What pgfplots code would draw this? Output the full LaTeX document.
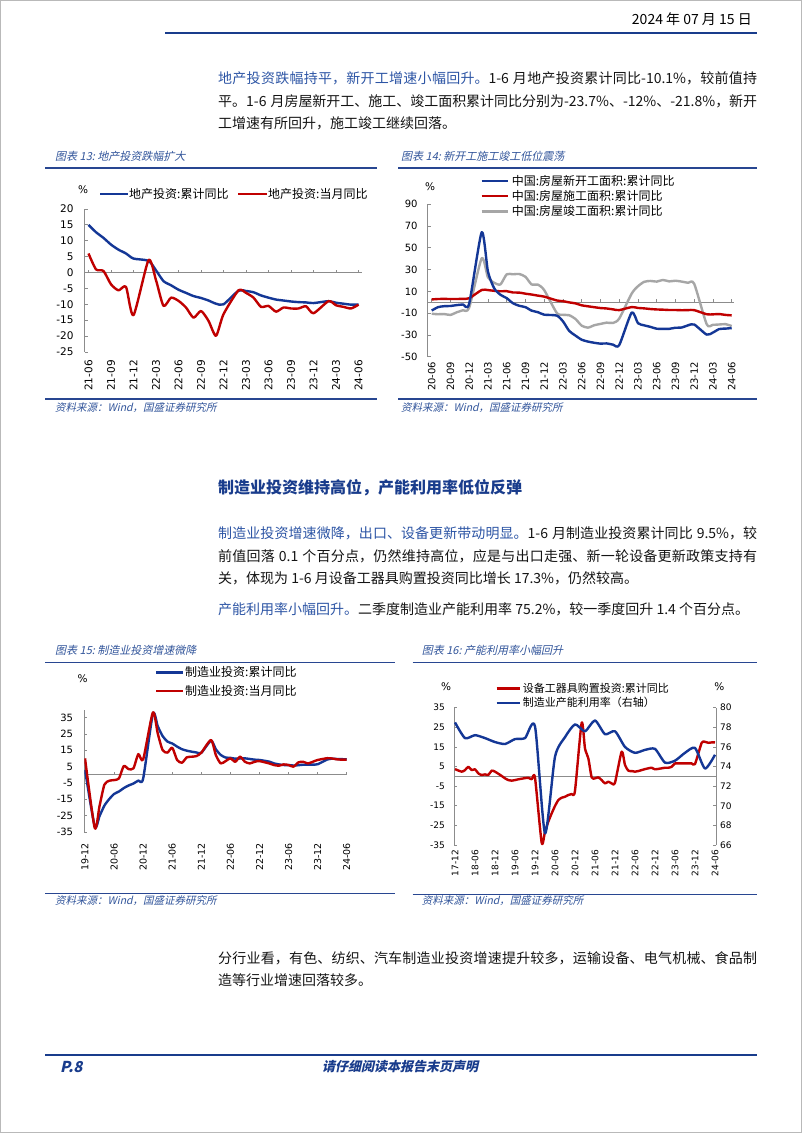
\documentclass[border=0pt]{standalone}
\usepackage{fontspec}
\usepackage{xcolor}
\usepackage{pgfplots}
\pgfplotsset{compat=1.18}
\setmainfont{Noto Sans CJK SC}
\newfontfamily\cjkit{Noto Sans CJK SC}[FakeSlant=0.22, BoldFeatures={FakeSlant=0.22}]
\newfontfamily\dv{DejaVu Sans}
\XeTeXlinebreaklocale "zh"
\XeTeXlinebreakskip=0pt plus 3pt minus 0.5pt

\definecolor{lineblue}{RGB}{20,55,150}
\definecolor{linered}{RGB}{192,0,0}
\definecolor{linegray}{RGB}{166,166,166}
\definecolor{axgray}{RGB}{140,140,140}
\definecolor{leadblue}{RGB}{45,85,165}
\definecolor{headblue}{RGB}{25,60,140}
\definecolor{ruleblue}{RGB}{40,70,145}
\definecolor{capblue}{RGB}{50,85,155}
\definecolor{bodytext}{RGB}{20,20,20}

\newcommand\body{\fontsize{14}{22}\selectfont\color{bodytext}}
\newcommand\jline[1]{\parbox[t]{539pt}{\parindent=0pt\parfillskip=0pt\emergencystretch=20pt\spaceskip=4pt plus 0.3pt minus 0.3pt\xspaceskip=4pt plus 0.3pt\relax\leavevmode #1\par}}
\newcommand\legfont{\fontsize{12}{14}\selectfont}
\newcommand\legfontS{\fontsize{11}{13}\selectfont}
\newcommand\capfont{\cjkit\fontsize{11}{13}\selectfont\color{capblue}}
\newcommand\srcfont{\cjkit\fontsize{10.5}{12}\selectfont\color{capblue}}
\newcommand\tickA{\fontsize{10.5}{12}\selectfont\dv}
\newcommand\tickB{\fontsize{10}{12}\selectfont\dv}
\newcommand\tickC{\fontsize{9.5}{11}\selectfont\dv}
\newcommand\tickD{\fontsize{9}{11}\selectfont\dv}
\newcommand\pct{\fontsize{10.5}{12}\selectfont\dv}

\pgfplotsset{
  gs/.style={
    scale only axis, anchor=north west,
    axis y line*=left, axis x line*=bottom,
    x axis line style={draw=none},
    y axis line style={draw=axgray, line width=0.8pt},
    xtick style={draw=none},
    ytick style={draw=axgray, line width=0.8pt},
    tick align=inside, major tick length=3pt,
    /pgf/number format/assume math mode=true,
    yticklabel style={anchor=east, inner sep=0pt},
    no markers,
    every axis plot/.append style={line width=2.4pt, smooth, tension=0.4, line join=round},
  }
}

\begin{document}
\begin{tikzpicture}
\useasboundingbox (0,0) rectangle (802pt,-1133pt);
\fill[white] (0,0) rectangle (802pt,-1133pt);
\draw[gray!55, line width=1.2pt] (0.6pt,-0.6pt) rectangle (801.4pt,-1132.4pt);

% ---------- header ----------
\node[anchor=base east, inner sep=0] at (752pt,-24pt) {\fontsize{14}{16}\selectfont 2024 年 07 月 15 日};
\draw[headblue, line width=2.4pt] (165pt,-33pt) -- (757pt,-33pt);

% ---------- paragraph 1 ----------
\node[anchor=base west, inner sep=0] at (218pt,-83pt) {\body\jline{{\color{leadblue}地产投资跌幅持平，新开工增速小幅回升。}1-6 月地产投资累计同比-10.1\%，较前值持}};
\node[anchor=base west, inner sep=0] at (218pt,-106pt) {\body\jline{平。1-6 月房屋新开工、施工、竣工面积累计同比分别为-23.7\%、-12\%、-21.8\%，新开}};
\node[anchor=base west, inner sep=0] at (218pt,-128pt) {\body 工增速有所回升，施工竣工继续回落。};

% ---------- chart 13 frame ----------
\node[anchor=west, inner sep=0] at (55pt,-156pt) {\capfont 图表 13:\ 地产投资跌幅扩大};
\draw[ruleblue, line width=1.3pt] (45pt,-168pt) -- (377pt,-168pt);
\draw[ruleblue, line width=1.3pt] (45pt,-399pt) -- (377pt,-399pt);
\node[anchor=west, inner sep=0] at (55pt,-408pt) {\srcfont 资料来源：Wind，国盛证券研究所};
\node[inner sep=0] at (83pt,-190pt) {\pct\%};
\draw[lineblue, line width=2.4pt] (100pt,-194pt) -- (128pt,-194pt);
\node[anchor=west, inner sep=0] at (129pt,-194pt) {\legfont 地产投资:累计同比};
\draw[linered, line width=2.4pt] (238pt,-194pt) -- (267pt,-194pt);
\node[anchor=west, inner sep=0] at (268pt,-194pt) {\legfont 地产投资:当月同比};

\begin{axis}[gs, at={(84.75pt,-209pt)}, width=277pt, height=143pt,
  xmin=-0.5, xmax=36.43, ymin=-25, ymax=20,
  ytick={-25,-20,...,20}, xtick={0,3,...,36},
  xticklabels={21-06,21-09,21-12,22-03,22-06,22-09,22-12,23-03,23-06,23-09,23-12,24-03,24-06},
  ticklabel style={font=\tickA},
  yticklabel style={xshift=-11pt},
  xticklabel style={yshift=-8pt, rotate=90, anchor=east, inner sep=0pt}]
\draw[axgray, line width=0.8pt] (axis cs:-0.5,0) -- (axis cs:36.43,0);
\pgfplotsinvokeforeach{0,3,...,36}{\draw[axgray, line width=0.8pt] (axis cs:#1,0) -- ++(0pt,3pt);}
\addplot[lineblue] coordinates {(0,15.0)(1,12.7)(2,10.9)(3,8.8)(4,7.2)(5,6.0)(6,4.4)(8,3.7)(9,0.7)(10,-2.7)(11,-4.0)(12,-5.4)(13,-6.4)(14,-7.4)(15,-8.0)(16,-8.8)(17,-9.8)(18,-10.0)(20,-5.7)(21,-5.8)(22,-6.2)(23,-7.2)(24,-7.9)(25,-8.5)(26,-8.8)(27,-9.1)(28,-9.3)(29,-9.4)(30,-9.6)(32,-9.0)(33,-9.5)(34,-9.8)(35,-10.1)(36,-10.1)};
\addplot[linered] coordinates {(0,6.0)(1,1.0)(2,0.5)(3,-3.7)(4,-5.6)(5,-4.5)(6,-13.4)(8,3.9)(9,-2.4)(10,-10.5)(11,-7.9)(12,-8.9)(13,-11.0)(14,-14.2)(15,-12.1)(16,-15.2)(17,-19.9)(18,-13.1)(20,-5.6)(21,-6.4)(22,-7.9)(23,-10.8)(24,-10.5)(25,-12.3)(26,-11.0)(27,-11.3)(28,-11.3)(29,-10.6)(30,-12.8)(32,-9.0)(33,-10.3)(34,-10.8)(35,-11.3)(36,-10.1)};
\end{axis}

% ---------- chart 14 frame ----------
\node[anchor=west, inner sep=0] at (401pt,-156pt) {\capfont 图表 14:\ 新开工施工竣工低位震荡};
\draw[ruleblue, line width=1.3pt] (398pt,-168pt) -- (757pt,-168pt);
\draw[ruleblue, line width=1.3pt] (398pt,-399pt) -- (757pt,-399pt);
\node[anchor=west, inner sep=0] at (401pt,-408pt) {\srcfont 资料来源：Wind，国盛证券研究所};
\node[inner sep=0] at (430pt,-187pt) {\pct\%};
\draw[lineblue, line width=2.4pt] (481.7pt,-180.7pt) -- (508pt,-180.7pt);
\node[anchor=west, inner sep=0] at (511.7pt,-180.7pt) {\legfont 中国:房屋新开工面积:累计同比};
\draw[linered, line width=2.4pt] (481.7pt,-196.2pt) -- (508pt,-196.2pt);
\node[anchor=west, inner sep=0] at (511.7pt,-196.2pt) {\legfont 中国:房屋施工面积:累计同比};
\draw[linegray, line width=2.4pt] (481.7pt,-211.3pt) -- (508pt,-211.3pt);
\node[anchor=west, inner sep=0] at (511.7pt,-211.3pt) {\legfont 中国:房屋竣工面积:累计同比};

\begin{axis}[gs, at={(427.7pt,-204.3pt)}, width=306.3pt, height=152.4pt,
  xmin=-0.64, xmax=48.37, ymin=-50, ymax=90,
  ytick={-50,-30,...,90}, xtick={0,3,...,48},
  xticklabels={20-06,20-09,20-12,21-03,21-06,21-09,21-12,22-03,22-06,22-09,22-12,23-03,23-06,23-09,23-12,24-03,24-06},
  ticklabel style={font=\tickB},
  yticklabel style={xshift=-10pt},
  xticklabel style={yshift=-5pt, rotate=90, anchor=east, inner sep=0pt}]
\draw[axgray, line width=0.8pt] (axis cs:-0.64,0) -- (axis cs:48.37,0);
\pgfplotsinvokeforeach{0,3,...,48}{\draw[axgray, line width=0.8pt] (axis cs:#1,0) -- ++(0pt,3pt);}
\addplot[linegray] coordinates {(0,-10.5)(1,-11.0)(2,-10.8)(3,-11.6)(4,-9.2)(5,-7.3)(6,-4.9)(8,40.4)(9,22.9)(10,17.9)(11,16.4)(12,25.7)(13,25.7)(14,26.0)(15,23.4)(16,16.3)(17,16.2)(18,11.2)(20,-9.7)(21,-11.5)(22,-11.9)(23,-15.3)(24,-21.5)(25,-23.3)(26,-21.1)(27,-19.9)(28,-18.7)(29,-19.0)(30,-15.0)(32,8.0)(33,14.7)(34,18.8)(35,19.6)(36,19.0)(37,20.5)(38,19.2)(39,19.8)(40,19.0)(41,17.9)(42,17.0)(44,-20.2)(45,-20.7)(46,-20.4)(47,-20.1)(48,-21.8)};
\addplot[linered] coordinates {(0,2.6)(1,3.0)(2,3.1)(3,3.0)(4,3.0)(5,3.2)(6,3.7)(8,11.3)(9,11.2)(10,10.5)(11,10.1)(12,10.2)(13,9.0)(14,8.9)(15,7.9)(16,7.1)(17,6.1)(18,5.2)(20,1.7)(21,1.0)(22,-0.1)(23,-1.0)(24,-2.8)(25,-3.7)(26,-4.5)(27,-5.3)(28,-5.7)(29,-6.5)(30,-7.2)(32,-4.4)(33,-5.2)(34,-5.6)(35,-6.2)(36,-6.6)(37,-6.8)(38,-7.1)(39,-7.1)(40,-7.3)(41,-7.2)(42,-7.2)(44,-11.0)(45,-11.1)(46,-10.8)(47,-11.6)(48,-12.0)};
\addplot[lineblue] coordinates {(0,-7.6)(1,-4.5)(2,-3.6)(3,-3.4)(4,-2.6)(5,-2.0)(6,-1.2)(8,64.3)(9,28.2)(10,12.8)(11,6.9)(12,3.8)(13,-0.9)(14,-3.2)(15,-4.5)(16,-7.7)(17,-9.1)(18,-11.4)(20,-12.2)(21,-17.5)(22,-26.3)(23,-30.6)(24,-34.4)(25,-36.1)(26,-37.2)(27,-38.0)(28,-37.8)(29,-38.9)(30,-39.4)(32,-9.4)(33,-19.2)(34,-21.2)(35,-22.6)(36,-24.3)(37,-24.5)(38,-24.4)(39,-23.4)(40,-23.2)(41,-21.2)(42,-20.4)(44,-29.7)(45,-27.8)(46,-24.6)(47,-24.2)(48,-23.7)};
\end{axis}

% ---------- section 2 ----------
\node[anchor=base west, inner sep=0] at (218pt,-493pt) {\fontsize{16}{18}\selectfont\bfseries\color{headblue}制造业投资维持高位，产能利用率低位反弹};
\node[anchor=base west, inner sep=0] at (218pt,-538pt) {\body\jline{{\color{leadblue}制造业投资增速微降，出口、设备更新带动明显。}1-6 月制造业投资累计同比 9.5\%，较}};
\node[anchor=base west, inner sep=0] at (218pt,-561pt) {\body\jline{前值回落 0.1 个百分点，仍然维持高位，应是与出口走强、新一轮设备更新政策支持有}};
\node[anchor=base west, inner sep=0] at (218pt,-583pt) {\body 关，体现为 1-6 月设备工器具购置投资同比增长 17.3\%，仍然较高。};
\node[anchor=base west, inner sep=0] at (218pt,-614pt) {\body{\color{leadblue}产能利用率小幅回升。}二季度制造业产能利用率 75.2\%，较一季度回升 1.4 个百分点。};

% ---------- chart 15 frame ----------
\node[anchor=west, inner sep=0] at (55pt,-650.7pt) {\capfont 图表 15:\ 制造业投资增速微降};
\draw[ruleblue, line width=1.3pt] (45pt,-662.3pt) -- (395pt,-662.3pt);
\draw[ruleblue, line width=1.3pt] (45pt,-893.3pt) -- (395pt,-893.3pt);
\node[anchor=west, inner sep=0] at (55pt,-901pt) {\srcfont 资料来源：Wind，国盛证券研究所};
\node[inner sep=0] at (82.7pt,-678.3pt) {\pct\%};
\draw[lineblue, line width=2.4pt] (156pt,-672.3pt) -- (182.7pt,-672.3pt);
\node[anchor=west, inner sep=0] at (185pt,-672.3pt) {\legfont 制造业投资:累计同比};
\draw[linered, line width=2.4pt] (156pt,-690.7pt) -- (182.7pt,-690.7pt);
\node[anchor=west, inner sep=0] at (185pt,-690.7pt) {\legfont 制造业投资:当月同比};

\begin{axis}[gs, at={(84.3pt,-710pt)}, width=262.9pt, height=122pt,
  xmin=-0.15, xmax=54.1, ymin=-35, ymax=39.7,
  ytick={-35,-25,...,35}, xtick={0,6,...,54},
  xticklabels={19-12,20-06,20-12,21-06,21-12,22-06,22-12,23-06,23-12,24-06},
  ticklabel style={font=\tickB},
  xticklabel style={font=\tickC},
  yticklabel style={xshift=-11pt},
  xticklabel style={yshift=-11pt, rotate=90, anchor=east, inner sep=0pt}]
\draw[axgray, line width=0.8pt] (axis cs:-0.15,0) -- (axis cs:54.1,0);
\pgfplotsinvokeforeach{0,6,...,54}{\draw[axgray, line width=0.8pt] (axis cs:#1,0) -- ++(0pt,3pt);}
\addplot[lineblue] coordinates {(0,3.1)(2,-31.5)(3,-25.2)(4,-18.8)(5,-14.8)(6,-11.7)(7,-10.2)(8,-8.1)(9,-6.5)(10,-5.3)(11,-3.5)(12,-2.2)(14,37.3)(15,29.8)(16,23.8)(17,20.4)(18,19.2)(19,17.3)(20,15.7)(21,14.8)(22,14.2)(23,13.7)(24,13.5)(26,20.9)(27,15.6)(28,12.2)(29,10.6)(30,10.4)(31,9.9)(32,10.0)(33,10.1)(34,9.7)(35,9.3)(36,9.1)(38,8.1)(39,7.0)(40,6.4)(41,6.0)(42,6.0)(43,5.7)(44,5.9)(45,6.2)(46,6.2)(47,6.3)(48,6.5)(50,9.4)(51,9.9)(52,9.7)(53,9.6)(54,9.5)};
\addplot[linered] coordinates {(0,10.1)(2,-32.5)(3,-19.0)(4,-6.0)(5,-3.6)(6,-3.2)(7,-2.2)(8,5.4)(9,3.5)(10,4.0)(11,12.7)(12,9.5)(14,38.2)(15,25.4)(16,15.2)(17,13.6)(18,16.6)(19,9.1)(20,7.4)(21,10.7)(22,11.1)(23,11.5)(24,13.6)(26,21.3)(27,12.1)(28,7.0)(29,8.4)(30,10.1)(31,8.0)(32,11.1)(33,8.0)(34,7.0)(35,8.0)(36,8.4)(38,7.0)(39,6.0)(40,5.6)(41,6.4)(42,6.0)(43,5.0)(44,7.6)(45,8.0)(46,7.0)(47,8.0)(48,9.1)(50,10.2)(51,10.0)(52,9.5)(53,9.3)(54,9.3)};
\end{axis}

% ---------- chart 16 frame ----------
\node[anchor=west, inner sep=0] at (421.7pt,-650.7pt) {\capfont 图表 16:\ 产能利用率小幅回升};
\draw[ruleblue, line width=1.3pt] (412.7pt,-662.3pt) -- (757pt,-662.3pt);
\draw[ruleblue, line width=1.3pt] (412.7pt,-894.3pt) -- (757pt,-894.3pt);
\node[anchor=west, inner sep=0] at (421.7pt,-901pt) {\srcfont 资料来源：Wind，国盛证券研究所};
\node[inner sep=0] at (446pt,-686.7pt) {\pct\%};
\node[inner sep=0] at (719.3pt,-686.7pt) {\pct\%};
\draw[linered, line width=2.4pt] (496.7pt,-688.3pt) -- (520pt,-688.3pt);
\node[anchor=west, inner sep=0] at (522.7pt,-688.3pt) {\legfontS 设备工器具购置投资:累计同比};
\draw[lineblue, line width=2.4pt] (496.7pt,-702.7pt) -- (520pt,-702.7pt);
\node[anchor=west, inner sep=0] at (522.7pt,-702.7pt) {\legfontS 制造业产能利用率（右轴）};

\begin{axis}[gs, at={(454pt,-707.7pt)}, width=262pt, height=137.3pt,
  xmin=-0.3, xmax=78.3, ymin=-35, ymax=35,
  ytick={-35,-25,...,35}, xtick={0,6,...,78},
  xticklabels={17-12,18-06,18-12,19-06,19-12,20-06,20-12,21-06,21-12,22-06,22-12,23-06,23-12,24-06},
  ticklabel style={font=\tickD},
  yticklabel style={xshift=-9pt},
  xticklabel style={yshift=-5pt, rotate=90, anchor=east, inner sep=0pt}]
\draw[axgray, line width=0.8pt] (axis cs:-0.3,0) -- (axis cs:78.3,0);
\addplot[linered] coordinates {(0,3.7)(2,2.4)(3,3.2)(4,4.9)(5,3.2)(6,3.6)(7,1.5)(8,0.7)(9,1.0)(10,0.7)(11,2.9)(12,2.4)(14,0.2)(15,-1.0)(16,-1.9)(17,-2.2)(18,-1.9)(19,-1.5)(20,-1.2)(21,-0.9)(22,-0.7)(23,-1.5)(24,-0.7)(26,-33.8)(27,-28.2)(28,-23.1)(29,-18.9)(30,-15.1)(31,-12.1)(32,-10.9)(33,-10.4)(34,-9.5)(35,-9.0)(36,-7.3)(38,27.3)(39,14.2)(40,9.2)(41,-0.5)(42,-1.0)(43,-0.5)(44,-1.9)(45,-3.6)(46,-2.7)(47,-3.6)(48,-3.2)(50,12.6)(51,5.8)(52,2.9)(53,2.7)(54,2.4)(55,2.7)(56,3.2)(57,3.7)(58,4.1)(59,4.4)(60,3.6)(62,4.1)(63,4.4)(64,4.4)(65,4.9)(66,6.6)(67,6.6)(68,6.6)(69,6.6)(70,6.6)(71,6.6)(72,6.3)(74,17.1)(75,17.6)(76,17.1)(77,17.3)(78,17.3)};
\end{axis}
\begin{axis}[gs, at={(454pt,-707.7pt)}, width=262pt, height=137.3pt,
  axis y line*=right, axis x line=none,
  xmin=-0.3, xmax=78.3, ymin=66, ymax=80,
  ytick={66,68,...,80},
  ticklabel style={font=\tickD},
  yticklabel style={anchor=west, xshift=4pt}]
\addplot[lineblue] coordinates {(0,78.5)(3,76.9)(6,77.2)(9,76.9)(12,76.5)(15,76.3)(18,76.8)(21,76.9)(24,78.1)(27,67.2)(30,75.0)(33,77.0)(36,78.3)(39,77.6)(42,78.7)(45,77.3)(48,77.6)(51,76.0)(54,75.4)(57,75.7)(60,75.8)(63,74.4)(66,74.6)(69,75.4)(72,75.9)(75,73.8)(78,75.2)};
\end{axis}

% ---------- paragraph 4 ----------
\node[anchor=base west, inner sep=0] at (218pt,-963pt) {\body\jline{分行业看，有色、纺织、汽车制造业投资增速提升较多，运输设备、电气机械、食品制}};
\node[anchor=base west, inner sep=0] at (218pt,-985pt) {\body 造等行业增速回落较多。};

% ---------- footer ----------
\draw[headblue, line width=2.4pt] (45pt,-1055pt) -- (757pt,-1055pt);
\node[anchor=west, inner sep=0] at (60pt,-1067pt) {\cjkit\bfseries\fontsize{15}{17}\selectfont\color{headblue}P.8};
\node[inner sep=0] at (400pt,-1067pt) {\cjkit\bfseries\fontsize{13}{15}\selectfont\color{headblue}请仔细阅读本报告末页声明};
\end{tikzpicture}
\end{document}
